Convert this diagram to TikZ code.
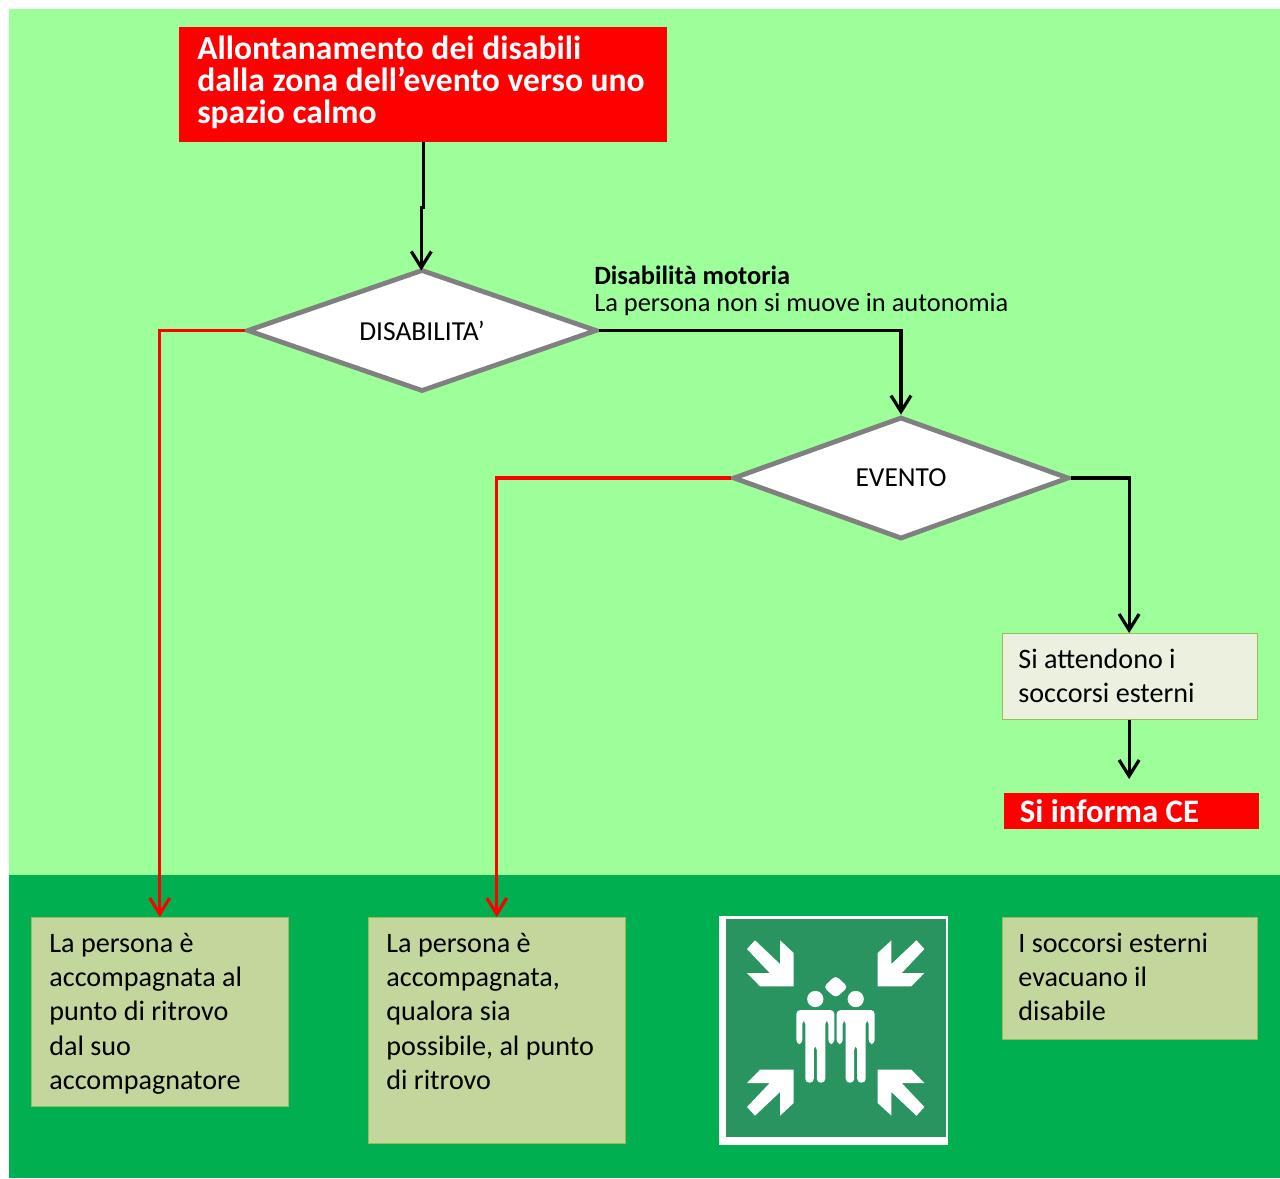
\documentclass[tikz,border=0pt]{standalone}
\usepackage{fontspec}
\setmainfont{Carlito}
\usetikzlibrary{positioning, arrows.meta, shapes.geometric}
\definecolor{zonelight}{HTML}{9CFF99}
\definecolor{zonedark}{HTML}{00B050}
\definecolor{boxolive}{HTML}{C3D69B}
\definecolor{boxpale}{HTML}{EBF1DE}
\definecolor{boxline}{HTML}{9BBB59}
\definecolor{signgreen}{HTML}{2A9461}

\begin{document}
\begin{tikzpicture}[
    x=0.75pt, y=-0.75pt,
    arrow/.style={-{Straight Barb[length=12pt, width=15pt, line width=2.4pt]}, line width=2.4pt},
    redbox/.style={fill=red, text=white, anchor=north west, align=flush left, inner ysep=0pt, inner xsep=13.5pt, font=\fontsize{25.2pt}{24pt}\selectfont\bfseries},
    choice/.style={diamond, shape aspect=2.8, draw=gray, fill=white, line width=3.6pt, inner sep=0pt, font=\fontsize{20.6pt}{22pt}\selectfont},
    infobox/.style={fill=boxolive, draw=boxline, line width=0.6pt, anchor=north west, align=flush left, inner ysep=0pt, inner xsep=13.5pt, text width=165.5pt, text height=26.25pt, font=\fontsize{21.1pt}{25.7pt}\selectfont}
]
    \useasboundingbox (0, 0) rectangle (1280, 1178);

    % Zones
    \fill[zonelight] (9, 9) rectangle (1280, 875);
    \fill[zonedark] (9, 875) rectangle (1280, 1178);

    % Top box
    \node[redbox, minimum width=366pt, text width=339pt, text height=24pt, text depth=62.2pt] (allontanamento) at (179, 27) {Allontanamento dei disabili\\dalla zona dell’evento verso uno\\spazio calmo};

    % Decisions
    \node[choice, minimum width=262.5pt, minimum height=91.5pt] (disabilita) at (422, 330.5) {DISABILITA’};
    \node[choice, minimum width=252pt, minimum height=91.5pt] (evento) at (901, 478) {EVENTO};
    \node[anchor=west, align=flush left, inner sep=0pt, font=\fontsize{19.8pt}{20.4pt}\selectfont] (motoria) at (594, 290.5) {\textbf{Disabilità motoria}\\La persona non si muove in autonomia};

    % Right column
    \node[infobox, fill=boxpale, text depth=38.25pt, inner xsep=12pt, text width=167.5pt] (attesa) at (1002, 633) {Si attendono i\\soccorsi esterni};
    \node[redbox, inner xsep=11.5pt, minimum width=191.25pt, text width=168pt, text height=21.7pt, text depth=5.3pt, font=\fontsize{24.6pt}{24pt}\selectfont\bfseries] (informa) at (1004, 793) {Si informa CE};

    % Bottom boxes
    \node[infobox, text depth=115.5pt] (ritrovo) at (31, 917) {La persona è\\accompagnata al\\punto di ritrovo\\dal suo\\accompagnatore};
    \node[infobox, text depth=143pt] (possibile) at (368, 917) {La persona è\\accompagnata,\\qualora sia\\possibile, al punto\\di ritrovo};
    \node[infobox, text depth=65pt, inner xsep=12pt, text width=167.5pt] (evacuano) at (1002, 917) {I soccorsi esterni\\evacuano il\\disabile};

    % Assembly point sign
    \fill[white] (719, 916) rectangle (948, 1145);
    \fill[signgreen] (726, 919) rectangle (945.5, 1137);
    \foreach \sx/\sy in {1/1, -1/1, 1/-1, -1/-1} {
        \begin{scope}[shift={(835.7, 1028)}, xscale=\sx, yscale=\sy]
            \fill[white] (-88.7, -79) -- (-80.7, -87.7) -- (-55.7, -64) -- (-55.7, -87.7) -- (-42, -75) -- (-42, -41.7) -- (-75.7, -41.7) -- (-88.7, -55) -- (-66, -55) -- cycle;
        \end{scope}
    }
    \fill[white, rounded corners=3pt] (835.7, 975.5) -- (848, 987) -- (835.7, 998) -- (823.5, 987) -- cycle;
    \foreach \cx in {815.3, 855.7} {
        \fill[white] (\cx, 999) circle (6.1pt);
        \fill[white, rounded corners=3pt] (\cx-19, 1044) -- (\cx-19, 1010) -- (\cx+19, 1010) -- (\cx+19, 1044) -- (\cx+13, 1044) -- (\cx+13, 1020) -- (\cx+10, 1020) -- (\cx+10, 1082.7) -- (\cx+1.5, 1082.7) -- (\cx+1.5, 1045.7) -- (\cx-1.5, 1045.7) -- (\cx-1.5, 1082.7) -- (\cx-10, 1082.7) -- (\cx-10, 1020) -- (\cx-13, 1020) -- (\cx-13, 1044) -- cycle;
    }

    % Arrows
    \draw[arrow] (allontanamento.south) -- ++(0, 65) -- ++(-2, 0) -- ++(0, 63);
    \draw[arrow] (disabilita.east) -| (evento.north);
    \draw[arrow] (evento.east) -| ([xshift=-0.7pt]attesa.north);
    \draw[arrow, shorten >=10.5pt] ([xshift=-0.7pt]attesa.south) -- ([xshift=-0.7pt]attesa.south |- informa.north);
    \draw[arrow, red] (disabilita.west) -| (ritrovo.north);
    \draw[arrow, red] (evento.west) -| (possibile.north);
\end{tikzpicture}
\end{document}
